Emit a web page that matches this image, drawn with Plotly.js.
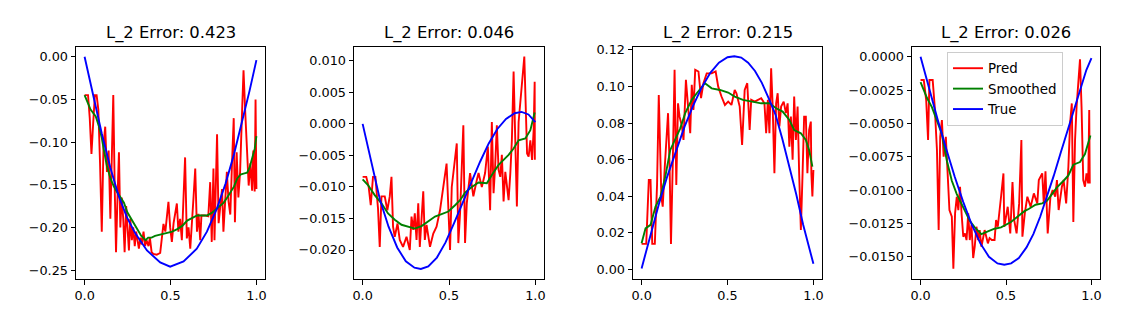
<!DOCTYPE html>
<html>
<head>
<meta charset="utf-8">
<script src="https://cdn.plot.ly/plotly-3.0.1.min.js"></script>
<style>html,body{margin:0;padding:0;background:#fff;}#chart{width:1122px;height:330px;}</style>
</head>
<body>
<div id="chart"></div>
<script>
// ---------- Data ----------
const titles = ["L_2 Error: 0.423", "L_2 Error: 0.046", "L_2 Error: 0.215", "L_2 Error: 0.026"];
const seriesNames = ["Pred", "Smoothed", "True"];

// Panel 1 ([x, y] pairs)
const p1Pred = [[0,-0.045],[0.01,-0.045],[0.02,-0.045],[0.03,-0.072],[0.04,-0.114],[0.05,-0.078],[0.06,-0.045],[0.07,-0.045],[0.08,-0.062],[0.09,-0.125],
[0.10,-0.205],[0.11,-0.105],[0.12,-0.082],[0.13,-0.135],[0.14,-0.110],[0.15,-0.190],[0.16,-0.120],[0.167,-0.045],[0.175,-0.150],[0.183,-0.229],
[0.19,-0.175],[0.20,-0.112],[0.208,-0.200],[0.216,-0.165],[0.225,-0.190],[0.233,-0.229],[0.242,-0.175],[0.25,-0.200],[0.258,-0.227],[0.266,-0.190],
[0.275,-0.215],[0.283,-0.200],[0.292,-0.222],[0.30,-0.205],[0.308,-0.218],[0.316,-0.225],[0.325,-0.212],[0.333,-0.220],[0.343,-0.205],[0.352,-0.222],
[0.36,-0.215],[0.372,-0.222],[0.38,-0.212],[0.39,-0.229],[0.40,-0.231],[0.42,-0.232],[0.44,-0.230],[0.45,-0.215],[0.459,-0.196],[0.47,-0.205],
[0.479,-0.182],[0.488,-0.170],[0.498,-0.200],[0.508,-0.217],[0.518,-0.195],[0.528,-0.180],[0.537,-0.172],[0.546,-0.205],[0.556,-0.190],[0.566,-0.215],
[0.576,-0.160],[0.585,-0.118],[0.595,-0.213],[0.605,-0.200],[0.615,-0.225],[0.625,-0.185],[0.634,-0.165],[0.644,-0.131],[0.654,-0.205],[0.663,-0.184],
[0.673,-0.215],[0.68,-0.186],[0.70,-0.186],[0.72,-0.187],[0.731,-0.147],[0.74,-0.217],[0.75,-0.131],[0.756,-0.215],[0.765,-0.150],[0.771,-0.091],
[0.78,-0.195],[0.79,-0.170],[0.80,-0.155],[0.808,-0.205],[0.818,-0.175],[0.828,-0.135],[0.838,-0.170],[0.848,-0.185],[0.858,-0.125],[0.868,-0.072],
[0.875,-0.194],[0.885,-0.112],[0.895,-0.165],[0.905,-0.135],[0.915,-0.074],[0.925,-0.016],[0.935,-0.065],[0.945,-0.115],[0.955,-0.151],[0.965,-0.125],
[0.975,-0.157],[0.982,-0.110],[0.99,-0.158],[0.995,-0.050],[1.0,-0.155]];
const p1Smooth = [[0,-0.045],[0.02,-0.055],[0.035,-0.062],[0.05,-0.066],[0.065,-0.070],[0.083,-0.081],[0.10,-0.095],[0.112,-0.109],[0.13,-0.128],[0.151,-0.143],
[0.17,-0.152],[0.19,-0.159],[0.21,-0.165],[0.229,-0.171],[0.248,-0.182],[0.27,-0.190],[0.29,-0.196],[0.306,-0.202],[0.33,-0.210],[0.355,-0.215],
[0.37,-0.212],[0.39,-0.212],[0.41,-0.210],[0.43,-0.209],[0.46,-0.208],[0.48,-0.207],[0.51,-0.205],[0.539,-0.202],[0.57,-0.198],[0.597,-0.192],
[0.625,-0.189],[0.655,-0.186],[0.69,-0.186],[0.713,-0.186],[0.74,-0.183],[0.771,-0.178],[0.79,-0.175],[0.81,-0.171],[0.83,-0.165],[0.849,-0.159],
[0.87,-0.152],[0.888,-0.143],[0.907,-0.138],[0.925,-0.137],[0.946,-0.136],[0.96,-0.130],[0.975,-0.120],[0.99,-0.108],[1.0,-0.093]];
const p1True = [[0,0.000],[0.05,-0.047],[0.10,-0.090],[0.15,-0.130],[0.198,-0.163],[0.246,-0.188],[0.295,-0.207],[0.363,-0.227],[0.44,-0.241],[0.498,-0.246],
[0.576,-0.240],[0.653,-0.225],[0.712,-0.205],[0.77,-0.178],[0.82,-0.149],[0.87,-0.114],[0.92,-0.074],[0.96,-0.040],[1.0,-0.004]];

// Panel 2
const p2Pred = [[0,-0.0084],[0.021,-0.0084],[0.035,-0.0100],[0.047,-0.0129],[0.060,-0.0084],[0.074,-0.0084],[0.083,-0.0115],[0.089,-0.0134],[0.099,-0.0195],[0.109,-0.0115],
[0.128,-0.0115],[0.143,-0.0137],[0.157,-0.0115],[0.167,-0.0084],[0.176,-0.0163],[0.186,-0.0179],[0.202,-0.0158],[0.215,-0.0184],[0.234,-0.0195],[0.254,-0.0179],
[0.273,-0.0200],[0.283,-0.0147],[0.293,-0.0168],[0.302,-0.0142],[0.312,-0.0184],[0.322,-0.0126],[0.331,-0.0195],[0.345,-0.0126],[0.351,-0.0107],[0.360,-0.0184],
[0.370,-0.0160],[0.390,-0.0195],[0.409,-0.0174],[0.428,-0.0163],[0.448,-0.0137],[0.467,-0.0100],[0.486,-0.0063],[0.506,-0.0200],[0.516,-0.0100],[0.545,-0.0031],
[0.554,-0.0189],[0.564,-0.0142],[0.583,-0.0002],[0.593,-0.0189],[0.603,-0.0126],[0.622,-0.0078],[0.641,-0.0115],[0.661,-0.0089],[0.671,-0.0078],[0.690,-0.0100],
[0.709,-0.0078],[0.725,-0.0036],[0.738,-0.0137],[0.748,0.0003],[0.758,-0.0110],[0.767,-0.0068],[0.777,-0.0002],[0.787,-0.0073],[0.797,-0.0084],[0.806,-0.0049],
[0.816,-0.0123],[0.826,-0.0076],[0.845,-0.0121],[0.855,-0.0078],[0.864,-0.0026],[0.874,0.0083],[0.884,-0.0026],[0.893,-0.0131],[0.903,0.0003],[0.922,0.0059],
[0.936,0.0107],[0.952,-0.0047],[0.961,-0.0052],[0.971,-0.0026],[0.981,-0.0057],[0.990,-0.0010],[0.996,0.0067],[0.997,-0.0057]];
const p2Smooth = [[0,-0.0088],[0.031,-0.0097],[0.07,-0.0113],[0.109,-0.0126],[0.147,-0.0142],[0.186,-0.0152],[0.225,-0.0160],[0.264,-0.0163],[0.302,-0.0166],[0.341,-0.0162],
[0.38,-0.0155],[0.419,-0.0147],[0.457,-0.0143],[0.496,-0.0139],[0.535,-0.0129],[0.564,-0.0121],[0.593,-0.0109],[0.632,-0.0100],[0.671,-0.0093],[0.719,-0.0094],
[0.748,-0.0081],[0.787,-0.0065],[0.816,-0.0057],[0.845,-0.0049],[0.874,-0.0039],[0.903,-0.0026],[0.942,-0.0023],[0.971,-0.0010],[0.996,0.0018]];
const p2True = [[0,0.0000],[0.05,-0.0062],[0.10,-0.0120],[0.15,-0.0163],[0.20,-0.0196],[0.25,-0.0218],[0.30,-0.0228],[0.337,-0.0230],[0.38,-0.0226],[0.43,-0.0212],
[0.48,-0.0188],[0.53,-0.0157],[0.58,-0.0124],[0.63,-0.0093],[0.68,-0.0060],[0.73,-0.0031],[0.78,-0.0008],[0.83,0.0008],[0.88,0.0017],[0.92,0.0019],
[0.96,0.0015],[1.0,0.0003]];

// Panel 3
const p3Pred = [[0,0.0139],[0.013,0.0139],[0.027,0.0139],[0.042,0.0489],[0.052,0.0489],[0.062,0.0139],[0.077,0.0139],[0.090,0.0461],[0.100,0.0954],[0.115,0.0398],
[0.123,0.0343],[0.135,0.0562],[0.154,0.0854],[0.163,0.0562],[0.171,0.0139],[0.181,0.0562],[0.192,0.1091],[0.202,0.0461],[0.212,0.0908],[0.221,0.0835],
[0.235,0.0781],[0.244,0.0708],[0.258,0.1036],[0.269,0.0908],[0.283,0.0744],[0.292,0.1009],[0.302,0.0872],[0.312,0.1091],[0.331,0.1082],[0.346,0.0936],
[0.360,0.1018],[0.379,0.1072],[0.408,0.1072],[0.431,0.1082],[0.446,0.0999],[0.465,0.0945],[0.485,0.0899],[0.504,0.0917],[0.523,0.0899],[0.542,0.0981],
[0.552,0.0963],[0.571,0.0890],[0.585,0.0680],[0.600,0.0981],[0.615,0.1018],[0.629,0.0762],[0.638,0.0927],[0.658,0.0917],[0.677,0.0927],[0.696,0.0936],
[0.715,0.0908],[0.725,0.0744],[0.735,0.0927],[0.744,0.0744],[0.754,0.1100],[0.763,0.0890],[0.773,0.0525],[0.783,0.0908],[0.792,0.0963],[0.802,0.0781],
[0.812,0.0890],[0.827,0.0917],[0.840,0.0854],[0.850,0.0908],[0.860,0.0671],[0.869,0.0835],[0.879,0.0600],[0.888,0.0945],[0.898,0.0708],[0.908,0.0890],
[0.917,0.0525],[0.927,0.0215],[0.937,0.0525],[0.946,0.0835],[0.956,0.0835],[0.965,0.0525],[0.975,0.0762],[0.985,0.0808],[0.988,0.0525],[0.994,0.0398],
[1.0,0.0543]];
const p3Smooth = [[0,0.0142],[0.023,0.0224],[0.052,0.0243],[0.081,0.0343],[0.11,0.0398],[0.138,0.0507],[0.167,0.0653],[0.196,0.0708],[0.225,0.0771],[0.254,0.0854],
[0.292,0.0927],[0.321,0.0963],[0.369,0.1018],[0.408,0.0990],[0.456,0.0981],[0.504,0.0967],[0.542,0.0945],[0.59,0.0927],[0.638,0.0917],[0.696,0.0908],
[0.744,0.0908],[0.783,0.0881],[0.821,0.0863],[0.86,0.0817],[0.888,0.0762],[0.927,0.0744],[0.956,0.0708],[0.975,0.0653],[0.994,0.0562]];
const p3True = [[0,0.0005],[0.05,0.0185],[0.10,0.0355],[0.15,0.0510],[0.20,0.0650],[0.25,0.0780],[0.30,0.0895],[0.35,0.0995],[0.40,0.1075],[0.45,0.1130],
[0.50,0.1160],[0.54,0.1165],[0.58,0.1158],[0.62,0.1130],[0.66,0.1085],[0.70,0.1020],[0.74,0.0935],[0.78,0.0845],[0.82,0.0710],[0.86,0.0565],
[0.90,0.0410],[0.94,0.0245],[0.97,0.0130],[1.0,0.0030]];

// Panel 4
const p4Pred = [[0,-0.00175],[0.019,-0.00175],[0.033,-0.00325],[0.044,-0.00625],[0.052,-0.00175],[0.071,-0.00175],[0.083,-0.00375],[0.096,-0.0070],[0.106,-0.0130],[0.115,-0.0060],
[0.125,-0.00475],[0.135,-0.0075],[0.148,-0.0060],[0.160,-0.00925],[0.169,-0.0115],[0.183,-0.0120],[0.192,-0.0159],[0.202,-0.01175],[0.212,-0.0105],[0.221,-0.0115],
[0.231,-0.00975],[0.240,-0.01175],[0.250,-0.0135],[0.260,-0.01325],[0.269,-0.01375],[0.279,-0.01175],[0.288,-0.01375],[0.298,-0.0126],[0.308,-0.0151],[0.317,-0.01425],
[0.327,-0.01275],[0.337,-0.01375],[0.346,-0.0130],[0.356,-0.01425],[0.365,-0.0135],[0.375,-0.0130],[0.394,-0.0140],[0.404,-0.0136],[0.417,-0.01375],[0.433,-0.01375],
[0.442,-0.01225],[0.452,-0.01275],[0.471,-0.0105],[0.485,-0.00875],[0.490,-0.01275],[0.510,-0.01125],[0.525,-0.01325],[0.538,-0.0094],[0.548,-0.01225],[0.562,-0.01325],
[0.577,-0.0110],[0.590,-0.00625],[0.596,-0.0135],[0.610,-0.01175],[0.625,-0.0105],[0.644,-0.01125],[0.663,-0.01025],[0.683,-0.0110],[0.692,-0.00925],[0.712,-0.00875],
[0.721,-0.0110],[0.731,-0.0086],[0.744,-0.01325],[0.760,-0.0105],[0.773,-0.0100],[0.788,-0.0105],[0.798,-0.00925],[0.808,-0.0115],[0.827,-0.00975],[0.837,-0.00925],
[0.852,-0.0110],[0.860,-0.0095],[0.865,-0.00825],[0.875,-0.0050],[0.885,-0.0035],[0.894,-0.0124],[0.904,-0.00625],[0.913,-0.00375],[0.933,-0.0002],[0.942,-0.00375],
[0.952,-0.00925],[0.962,-0.00975],[0.971,-0.00875],[0.981,-0.0095],[0.987,-0.0040],[0.990,-0.0095]];
const p4Smooth = [[0,-0.0019],[0.019,-0.0025],[0.038,-0.0031],[0.067,-0.0038],[0.096,-0.0048],[0.125,-0.0058],[0.154,-0.0078],[0.183,-0.0093],[0.212,-0.0103],[0.25,-0.0113],
[0.288,-0.0123],[0.317,-0.0128],[0.356,-0.0133],[0.394,-0.0131],[0.433,-0.0129],[0.471,-0.0128],[0.5,-0.0126],[0.529,-0.0124],[0.567,-0.0120],[0.606,-0.0116],
[0.635,-0.0114],[0.673,-0.0111],[0.712,-0.0110],[0.74,-0.0108],[0.769,-0.0103],[0.798,-0.0098],[0.837,-0.0093],[0.865,-0.0089],[0.894,-0.0081],[0.933,-0.0079],
[0.962,-0.0073],[0.981,-0.0064],[0.994,-0.0059]];
const p4True = [[0,0.0000],[0.05,-0.0024],[0.10,-0.0047],[0.15,-0.0069],[0.20,-0.0090],[0.25,-0.0109],[0.30,-0.0126],[0.35,-0.0140],[0.40,-0.0150],[0.45,-0.0155],
[0.49,-0.0156],[0.53,-0.0155],[0.575,-0.0151],[0.62,-0.0143],[0.66,-0.0133],[0.70,-0.0120],[0.74,-0.0105],[0.78,-0.0089],[0.82,-0.0072],[0.86,-0.0055],
[0.90,-0.0038],[0.94,-0.0021],[0.97,-0.0010],[1.0,-0.0001]];

const xTicks = [0, 0.5, 1.0];
const yTicks1 = [0.00, -0.05, -0.10, -0.15, -0.20, -0.25];
const yTicks2 = [0.010, 0.005, 0.000, -0.005, -0.010, -0.015, -0.020];
const yTicks3 = [0.00, 0.02, 0.04, 0.06, 0.08, 0.10, 0.12];
const yTicks4 = [0.0000, -0.0025, -0.0050, -0.0075, -0.0100, -0.0125, -0.0150];

// ---------- Build ----------
const panels = [
  {pred: p1Pred, smooth: p1Smooth, truth: p1True, yticks: yTicks1, yfmt: '.2f', yrange: [-0.2605, 0.0114], dom: [76, 265]},
  {pred: p2Pred, smooth: p2Smooth, truth: p2True, yticks: yTicks2, yfmt: '.3f', yrange: [-0.0246, 0.0122], dom: [354, 544]},
  {pred: p3Pred, smooth: p3Smooth, truth: p3True, yticks: yTicks3, yfmt: '.2f', yrange: [-0.0053, 0.1216], dom: [633, 822]},
  {pred: p4Pred, smooth: p4Smooth, truth: p4True, yticks: yTicks4, yfmt: '.4f', yrange: [-0.01667, 0.00073], dom: [912, 1100]}
];
const colors = ['#ff0000', '#008000', '#0000ff'];
const W = 1122, H = 330;
const yDom = [1 - 279 / H, 1 - 47 / H];

const traces = [];
const layout = {
  width: W, height: H,
  margin: {l: 0, r: 0, t: 0, b: 0},
  paper_bgcolor: '#ffffff', plot_bgcolor: '#ffffff',
  font: {family: 'DejaVu Sans, sans-serif', size: 12.8, color: '#000000'},
  showlegend: true,
  legend: {
    x: 947 / W, y: 1 - 52 / H, xanchor: 'left', yanchor: 'top',
    bgcolor: 'rgba(255,255,255,0.8)', bordercolor: '#cccccc', borderwidth: 1,
    font: {family: 'DejaVu Sans, sans-serif', size: 13.4, color: '#000000'},
    tracegroupgap: 0
  },
  annotations: []
};

panels.forEach((p, i) => {
  const n = i === 0 ? '' : String(i + 1);
  const xa = 'x' + n, ya = 'y' + n;
  [p.pred, p.smooth, p.truth].forEach((s, k) => {
    traces.push({
      type: 'scatter', mode: 'lines',
      x: s.map(d => d[0]), y: s.map(d => d[1]),
      xaxis: xa, yaxis: ya,
      name: seriesNames[k],
      line: {color: colors[k], width: 1.9},
      showlegend: i === 3,
      hoverinfo: 'skip'
    });
  });
  const common = {
    showline: true, mirror: true, linecolor: '#000000', linewidth: 1,
    ticks: 'outside', ticklen: 4.5, tickwidth: 1, tickcolor: '#000000',
    showgrid: false, zeroline: false,
    tickfont: {family: 'DejaVu Sans, sans-serif', size: 12.8, color: '#000000'}
  };
  layout['xaxis' + n] = Object.assign({}, common, {
    domain: [p.dom[0] / W, p.dom[1] / W], range: [-0.05, 1.05],
    tickmode: 'array', tickvals: xTicks, tickformat: '.1f', anchor: ya
  });
  layout['yaxis' + n] = Object.assign({}, common, {
    domain: yDom, range: p.yrange,
    tickmode: 'array', tickvals: p.yticks, tickformat: p.yfmt, anchor: xa
  });
  layout.annotations.push({
    text: titles[i], xref: 'paper', yref: 'paper',
    x: (p.dom[0] + p.dom[1]) / 2 / W, y: 1 - 33 / H,
    xanchor: 'center', yanchor: 'middle', showarrow: false,
    font: {family: 'DejaVu Sans, sans-serif', size: 16.4, color: '#000000'}
  });
});

Plotly.newPlot('chart', traces, layout, {staticPlot: true, displayModeBar: false});
</script>
</body>
</html>
